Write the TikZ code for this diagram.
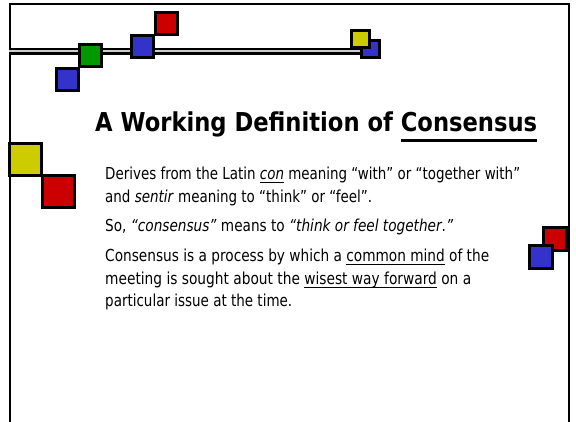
\documentclass[tikz,border=0pt]{standalone}
\usepackage{fontspec}
\setmainfont{DejaVu Sans}
\usepackage{graphicx}
\definecolor{sqblue}{HTML}{3333CC}
\definecolor{sqgreen}{HTML}{009900}
\definecolor{sqred}{HTML}{CC0000}
\definecolor{sqyellow}{HTML}{CCCC00}
\newsavebox\ulnbox
\newcommand\uln[3]{\sbox\ulnbox{#3}\rlap{\rule[-#1]{\wd\ulnbox}{#2}}\usebox\ulnbox}
\newcommand\fitline[2]{\resizebox{#1}{\height}{#2}}
\tikzset{
  frameline/.style={line width=2.5pt, black},
  sqbox/.style={draw=black, line width=3pt, minimum size=#1, inner sep=0pt, outer sep=0pt},
  bodytext/.style={anchor=base west, inner sep=0pt, font=\fontsize{16.5}{20}\selectfont},
  titletext/.style={anchor=base west, inner sep=0pt, font=\fontsize{26}{30}\selectfont\bfseries},
}
\begin{document}
\begin{tikzpicture}[x=1pt,y=-1pt]
\useasboundingbox (0,0) rectangle (576,422);
\fill[white] (0,0) rectangle (576,422);
% frame
\coordinate (fl) at (10,425);
\coordinate (ftl) at (10,4);
\coordinate (ftr) at (569,4);
\coordinate (fr) at (569,425);
\draw[frameline] (fl) -- (ftl) -- (ftr) -- (fr);
% double line
\coordinate (dla) at (9,51.2);
\coordinate (dlb) at (366,51.2);
\draw[line width=2.8pt, double=gray!40, double distance=1.6pt] (dla) -- (dlb);
% squares top
\node[sqbox=22pt, fill=sqblue] (b1) at (67.5,79.5) {};
\node[sqbox=22pt, fill=sqgreen] (g1) at (90.5,55.5) {};
\node[sqbox=22pt, fill=sqblue] (b2) at (142.5,46.5) {};
\node[sqbox=22pt, fill=sqred] (r1) at (166,23.5) {};
\node[sqbox=17.5pt, fill=sqblue] (b3) at (370.5,49.2) {};
\node[sqbox=17.5pt, fill=sqyellow] (y1) at (360.5,39) {};
% squares left
\node[sqbox=32pt, fill=sqyellow] (y2) at (25.5,159.5) {};
\node[sqbox=32pt, fill=sqred] (r2) at (58.5,192) {};
% squares right
\node[sqbox=23pt, fill=sqred] (r3) at (555,239) {};
\node[sqbox=23pt, fill=sqblue] (b4) at (541,257.5) {};
% title
\node[titletext] (title) at (95,132) {\fitline{442pt}{A Working Definition of \uln{10pt}{2.5pt}{Consensus}}};
% body
\node[bodytext] (l1) at (105,180) {\fitline{415pt}{Derives from the Latin \uln{2.5pt}{0.9pt}{\itshape con} meaning “with” or “together with”}};
\node[bodytext] (l2) at (105,203) {\fitline{267pt}{and \textit{sentir} meaning to “think” or “feel”.}};
\node[bodytext] (l3) at (105,232) {\fitline{348pt}{So, \textit{“consensus”} means to \textit{“think or feel together}.\textit{”}}};
\node[bodytext] (l4) at (105,262) {\fitline{384pt}{Consensus is a process by which a \uln{2.5pt}{0.9pt}{common mind} of the}};
\node[bodytext] (l5) at (105,285) {\fitline{366pt}{meeting is sought about the \uln{2.5pt}{0.9pt}{wisest way forward} on a}};
\node[bodytext] (l6) at (105,307) {\fitline{187pt}{particular issue at the time.}};
\end{tikzpicture}
\end{document}
